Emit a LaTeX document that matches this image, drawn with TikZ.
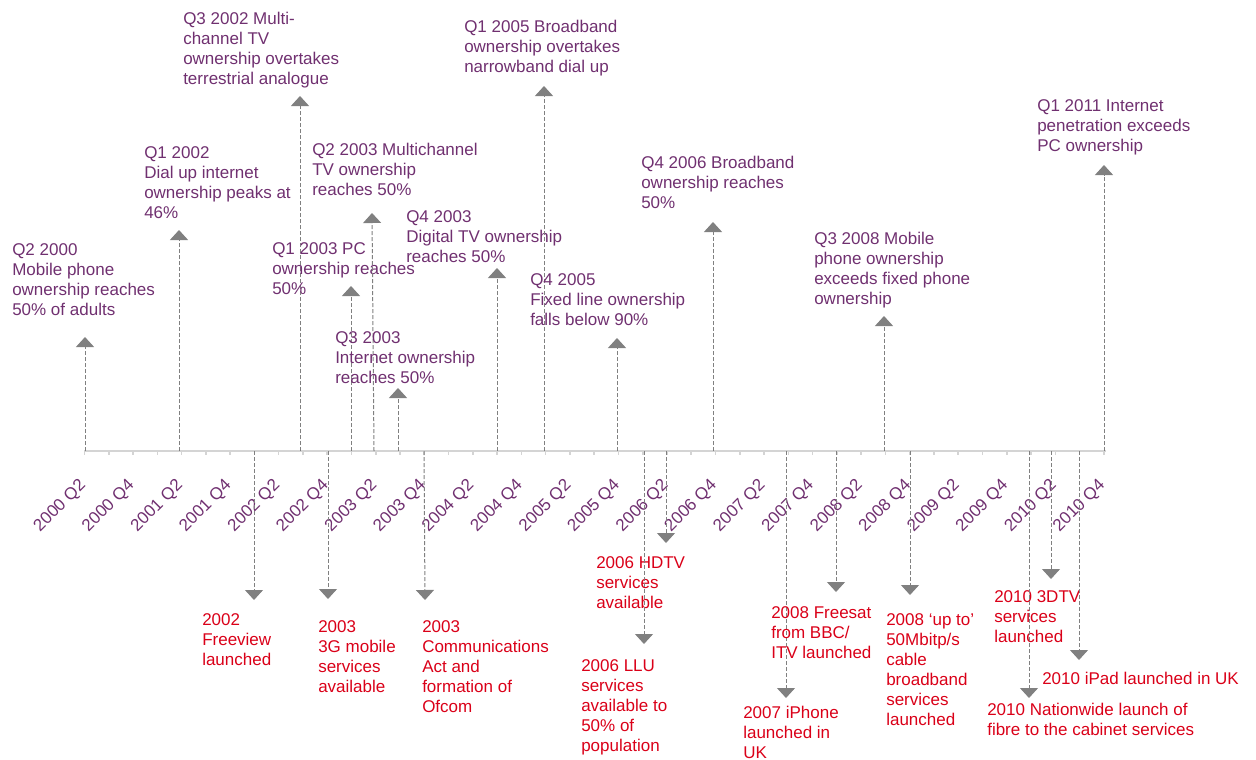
\documentclass[tikz,border=0pt]{standalone}
\usepackage{fontspec}
\setmainfont{Liberation Sans}
\usetikzlibrary{arrows.meta}
\definecolor{ofpurple}{RGB}{112,48,112}
\definecolor{ofred}{RGB}{218,0,24}
\definecolor{ofgrey}{RGB}{128,128,128}
\definecolor{oflight}{RGB}{212,212,212}

\begin{document}
\begin{tikzpicture}[x=0.75pt, y=-0.75pt,
  every node/.style={font={\fontsize{12.75}{15}\selectfont}, inner sep=0pt, anchor=north west, align=left},
  uptext/.style={text=ofpurple},
  downtext/.style={text=ofred},
  quarter/.style={text=ofpurple, rotate=45, anchor=base east},
  event/.style={draw=ofgrey, line width=.75pt, dash pattern=on 3pt off 1.5pt,
    -{Triangle[width=13.5pt, length=7.5pt]}}]
\useasboundingbox (0,0) rectangle (1256,760);

% the time line
\coordinate (start) at (84,451);
\coordinate (end) at (1106,451);
\draw[oflight, line width=1.8pt] (start) -- (end);
\foreach \i in {0,...,42}
  \draw[oflight, line width=1.2pt] (84.5+24.27*\i,451) -- ++(0,3.5);
\foreach \yr [count=\k from 0] in {2000,...,2010} {
  \node[quarter] (\yr-q2) at (86.5+97.08*\k,486) {\yr{} Q2};
  \node[quarter] (\yr-q4) at (135+97.08*\k,486) {\yr{} Q4};
}

% events above the line
\node[uptext] (mobile50) at (12,243.5) {Q2 2000\\Mobile phone\\ownership reaches\\50\% of adults};
\coordinate (mobile50-a) at (85,451); \coordinate (mobile50-t) at (85,337);
\draw[event] (mobile50-a) -- (mobile50-t);

\node[uptext] (dialup46) at (144,146.5) {Q1 2002\\Dial up internet\\ownership peaks at\\46\%};
\coordinate (dialup46-a) at (179,451); \coordinate (dialup46-t) at (179,230);
\draw[event] (dialup46-a) -- (dialup46-t);

\node[uptext] (multitv) at (183,11.5) {Q3 2002 Multi-\\channel TV\\ownership overtakes\\terrestrial analogue};
\coordinate (multitv-a) at (300,451); \coordinate (multitv-t) at (300,96);
\draw[event] (multitv-a) -- (multitv-t);

\node[uptext] (pc50) at (272,242.5) {Q1 2003 PC\\ownership reaches\\50\%};
\coordinate (pc50-a) at (351,451); \coordinate (pc50-t) at (351,286);
\draw[event] (pc50-a) -- (pc50-t);

\node[uptext] (multi50) at (312,142.5) {Q2 2003 Multichannel\\TV ownership\\reaches 50\%};
\coordinate (multi50-a) at (374,451); \coordinate (multi50-t) at (372,213);
\draw[event] (multi50-a) -- (multi50-t);

\node[uptext] (net50) at (335,331.5) {Q3 2003\\Internet ownership\\reaches 50\%};
\coordinate (net50-a) at (398,451); \coordinate (net50-t) at (398,388);
\draw[event] (net50-a) -- (net50-t);

\node[uptext] (digitv50) at (406,210.5) {Q4 2003\\Digital TV ownership\\reaches 50\%};
\coordinate (digitv50-a) at (497,451); \coordinate (digitv50-t) at (497,268);
\draw[event] (digitv50-a) -- (digitv50-t);

\node[uptext] (bbdialup) at (464,19.5) {Q1 2005 Broadband\\ownership overtakes\\narrowband dial up};
\coordinate (bbdialup-a) at (544,451); \coordinate (bbdialup-t) at (544,86);
\draw[event] (bbdialup-a) -- (bbdialup-t);

\node[uptext] (fixed90) at (530,273.5) {Q4 2005\\Fixed line ownership\\falls below 90\%};
\coordinate (fixed90-a) at (617,451); \coordinate (fixed90-t) at (617,338);
\draw[event] (fixed90-a) -- (fixed90-t);

\node[uptext] (bb50) at (641,155.5) {Q4 2006 Broadband\\ownership reaches\\50\%};
\coordinate (bb50-a) at (713,451); \coordinate (bb50-t) at (713,222);
\draw[event] (bb50-a) -- (bb50-t);

\node[uptext] (mobfixed) at (814,231.5) {Q3 2008 Mobile\\phone ownership\\exceeds fixed phone\\ownership};
\coordinate (mobfixed-a) at (884,451); \coordinate (mobfixed-t) at (884,316);
\draw[event] (mobfixed-a) -- (mobfixed-t);

\node[uptext] (netpc) at (1037,99.5) {Q1 2011 Internet\\penetration exceeds\\PC ownership};
\coordinate (netpc-a) at (1104,451); \coordinate (netpc-t) at (1104,165);
\draw[event] (netpc-a) -- (netpc-t);

% events below the line
\node[downtext] (freeview) at (202,613.5) {2002\\Freeview\\launched};
\coordinate (freeview-a) at (254,451); \coordinate (freeview-t) at (254,600);
\draw[event] (freeview-a) -- (freeview-t);

\node[downtext] (mobile3g) at (318,620.5) {2003\\3G mobile\\services\\available};
\coordinate (mobile3g-a) at (328,451); \coordinate (mobile3g-t) at (328,599);
\draw[event] (mobile3g-a) -- (mobile3g-t);

\node[downtext] (ofcom) at (422,620.5) {2003\\Communications\\Act and\\formation of\\Ofcom};
\coordinate (ofcom-a) at (424,451); \coordinate (ofcom-t) at (425,600);
\draw[event] (ofcom-a) -- (ofcom-t);

\node[downtext] (hdtv) at (596,556.5) {2006 HDTV\\services\\available};
\coordinate (hdtv-a) at (666,451); \coordinate (hdtv-t) at (666,543);
\draw[event] (hdtv-a) -- (hdtv-t);

\node[downtext] (llu) at (581,659.5) {2006 LLU\\services\\available to\\50\% of\\population};
\coordinate (llu-a) at (644,451); \coordinate (llu-t) at (644,644);
\draw[event] (llu-a) -- (llu-t);

\node[downtext] (iphone) at (743,705.5) {2007 iPhone\\launched in\\UK};
\coordinate (iphone-a) at (786,451); \coordinate (iphone-t) at (786,698);
\draw[event] (iphone-a) -- (iphone-t);

\node[downtext] (freesat) at (771,606.5) {2008 Freesat\\from BBC/\\ITV launched};
\coordinate (freesat-a) at (836,451); \coordinate (freesat-t) at (836,592);
\draw[event] (freesat-a) -- (freesat-t);

\node[downtext] (cable50) at (886,613.5) {2008 ‘up to’\\50Mbitp/s\\cable\\broadband\\services\\launched};
\coordinate (cable50-a) at (910,451); \coordinate (cable50-t) at (910,595);
\draw[event] (cable50-a) -- (cable50-t);

\node[downtext] (tv3d) at (994,590.5) {2010 3DTV\\services\\launched};
\coordinate (tv3d-a) at (1051,451); \coordinate (tv3d-t) at (1051,579);
\draw[event] (tv3d-a) -- (tv3d-t);

\node[downtext] (ipad) at (1042,671.5) {2010 iPad launched in UK};
\coordinate (ipad-a) at (1079,451); \coordinate (ipad-t) at (1079,660);
\draw[event] (ipad-a) -- (ipad-t);

\node[downtext] (fttc) at (987,702.5) {2010 Nationwide launch of\\fibre to the cabinet services};
\coordinate (fttc-a) at (1029,451); \coordinate (fttc-t) at (1029,698);
\draw[event] (fttc-a) -- (fttc-t);
\end{tikzpicture}
\end{document}
